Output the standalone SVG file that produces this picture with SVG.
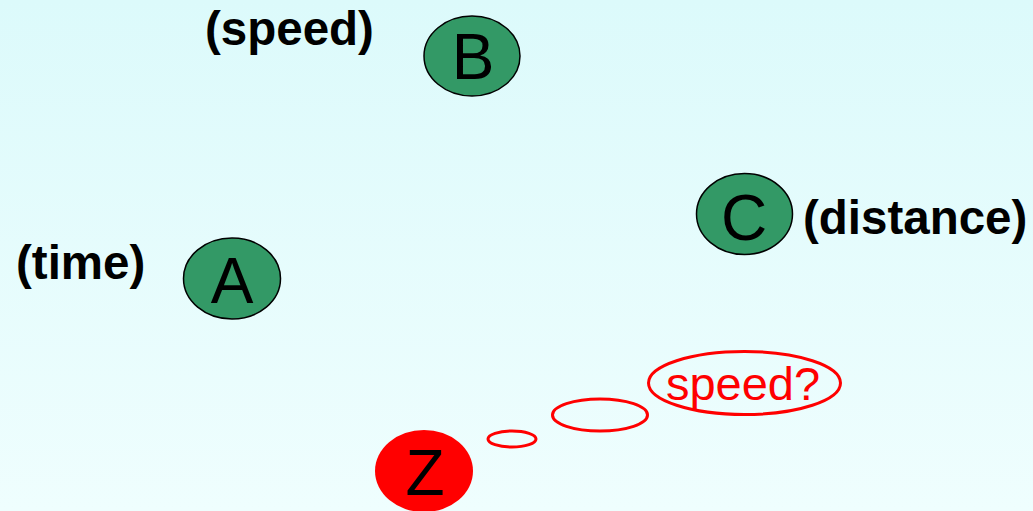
<svg xmlns="http://www.w3.org/2000/svg" width="1033" height="511" viewBox="0 0 1033 511">
<defs>
<linearGradient id="bg" x1="0" y1="0" x2="0" y2="1">
<stop offset="0" stop-color="#DCFAFB"/>
<stop offset="1" stop-color="#EFFEFE"/>
</linearGradient>
<style>
.node{fill:#339966;stroke:#000;stroke-width:1.5}
.letter{font-family:"Liberation Sans",Arial,sans-serif;font-size:64px;fill:#000;text-anchor:middle}
.label{font-family:"Liberation Sans",Arial,sans-serif;font-size:47.5px;font-weight:bold;fill:#000}
.bubble{fill:none;stroke:#FF0000;stroke-width:3}
</style>
</defs>
<rect x="0" y="0" width="1033" height="511" fill="url(#bg)"/>
<g id="node-B">
<ellipse class="node" cx="472" cy="56" rx="48" ry="40"/>
<text class="letter" x="473" y="79">B</text>
</g>
<text class="label" x="205" y="45">(speed)</text>
<g id="node-A">
<ellipse class="node" cx="232" cy="278.5" rx="48.5" ry="40.5"/>
<text class="letter" x="232" y="303">A</text>
</g>
<text class="label" x="16" y="279">(time)</text>
<g id="node-C">
<ellipse class="node" cx="744.5" cy="214" rx="48" ry="40.5"/>
<text class="letter" x="744" y="240">C</text>
</g>
<text class="label" x="803" y="234">(distance)</text>
<g id="node-Z">
<ellipse cx="424" cy="471" rx="49" ry="41" fill="#FF0000"/>
<text class="letter" x="425" y="495">Z</text>
</g>
<g id="thought">
<ellipse class="bubble" cx="512" cy="439" rx="24" ry="8"/>
<ellipse class="bubble" cx="600" cy="415" rx="47.5" ry="16"/>
<ellipse class="bubble" cx="744.5" cy="383" rx="96" ry="31.5"/>
<text x="743" y="400" font-family="Liberation Sans,Arial,sans-serif" font-size="47" fill="#FF0000" text-anchor="middle">speed?</text>
</g>
</svg>
